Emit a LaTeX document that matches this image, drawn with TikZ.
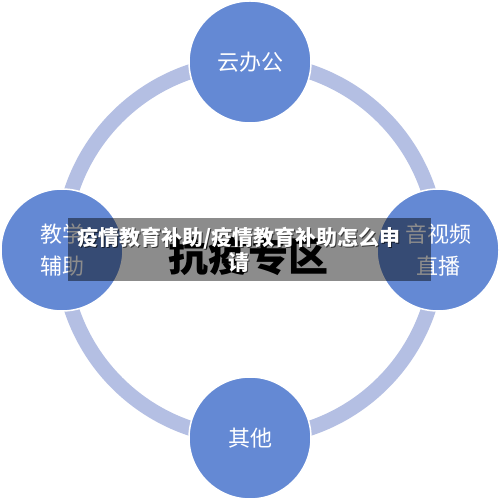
\documentclass[tikz,border=0pt]{standalone}
\usepackage{fontspec}
\usepackage{xcolor}
\newfontfamily\cjk{Noto Sans CJK SC}
\definecolor{myblue}{RGB}{100,137,212}
\definecolor{myring}{RGB}{180,191,227}
\tikzset{
  bubble/.style={fill=myblue, draw=white, line width=1.5pt},
  bubbletext/.style={white, align=center, font=\cjk\fontsize{22}{32}\selectfont}
}
\begin{document}
\begin{tikzpicture}[x=1pt,y=1pt]
\useasboundingbox (0,0) rectangle (500,500);
\fill[white] (0,0) rectangle (500,500);

% draw the ring
\draw[myring, line width=15pt] (250,250) circle (188);

% draw the bubbles
\filldraw[bubble] (250,438) circle (61);
\filldraw[bubble] (62,250) circle (61);
\filldraw[bubble] (438,250) circle (61);
\filldraw[bubble] (250,62) circle (61);

\node[bubbletext] (office) at (250,438) {云办公};
\node[bubbletext] (teach) at (62,250) {教学\\辅助};
\node[bubbletext] (video) at (438,250) {音视频\\直播};
\node[bubbletext] (other) at (250,62) {其他};

\node[font=\cjk\bfseries\fontsize{40}{44}\selectfont] (zone) at (248,244) {抗疫专区};

% draw the banner
\fill[black, opacity=0.45] (68,219) rectangle (431,282);
\node[black, opacity=0.6, align=center, font=\cjk\bfseries\fontsize{21}{25}\selectfont]
  (shade) at (240,249.5) {疫情教育补助/疫情教育补助怎么申\\请};
\node[white, align=center, font=\cjk\bfseries\fontsize{21}{25}\selectfont]
  (title) at (239,250.5) {疫情教育补助/疫情教育补助怎么申\\请};

\end{tikzpicture}
\end{document}
